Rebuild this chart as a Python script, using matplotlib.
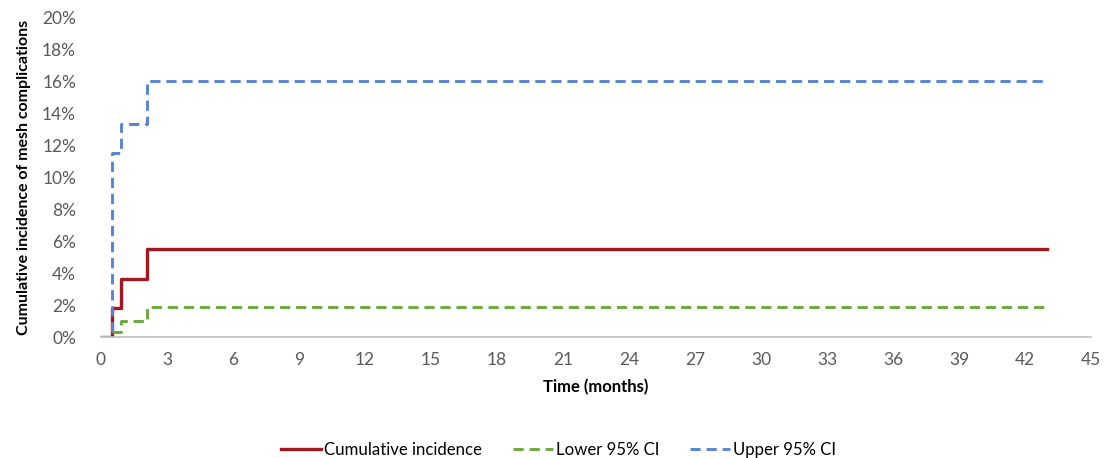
import matplotlib
matplotlib.use('Agg')
import matplotlib.pyplot as plt
from matplotlib.ticker import FuncFormatter

# step-function data (months, percent)
time = [0, 0.5, 0.9, 2.1, 43]
cum_inc = [0, 1.8, 3.6, 5.5, 5.5]
lower_ci = [0, 0.3, 1.0, 1.9, 1.9]
upper_ci = [0, 11.5, 13.3, 16.0, 16.0]

x_ticks = list(range(0, 46, 3))
y_ticks = list(range(0, 21, 2))

plt.rcParams['font.family'] = ['Lato', 'DejaVu Sans']

fig = plt.figure(figsize=(11.1, 4.58), dpi=100)
ax = fig.add_axes([101 / 1110, 121 / 458, 990 / 1110, 320 / 458])

ax.step(time, cum_inc, where='post', color='#A3171E', lw=2.4, label='Cumulative incidence')
ax.step(time, lower_ci, where='post', color='#6AAA3A', lw=2.1, ls=(0, (3.5, 2)), label='Lower 95% CI')
ax.step(time, upper_ci, where='post', color='#5585D6', lw=2.1, ls=(0, (3.5, 2)), label='Upper 95% CI')

ax.set_xlim(0, 45)
ax.set_ylim(0, 20)
ax.set_xticks(x_ticks)
ax.set_yticks(y_ticks)
ax.yaxis.set_major_formatter(FuncFormatter(lambda v, p: '%d%%' % v))

for s in ['top', 'right', 'left']:
    ax.spines[s].set_visible(False)
ax.spines['bottom'].set_color('#BFBFBF')
ax.spines['bottom'].set_linewidth(1.2)
ax.tick_params(length=0, labelsize=12.5, colors='#595959')
ax.tick_params(axis='x', pad=11)
ax.tick_params(axis='y', pad=18)

ax.set_xlabel('Time (months)', fontsize=12, fontweight='bold', labelpad=8)
ax.set_ylabel('Cumulative incidence of mesh complications', fontsize=11.5,
              fontweight='bold', labelpad=8)

fig.legend(loc='center', bbox_to_anchor=(0.503, 8 / 458), ncol=3, frameon=False,
           fontsize=12.1, handlelength=2.4, columnspacing=1.85, handletextpad=0.15)

fig.savefig('out.png', dpi=100)
